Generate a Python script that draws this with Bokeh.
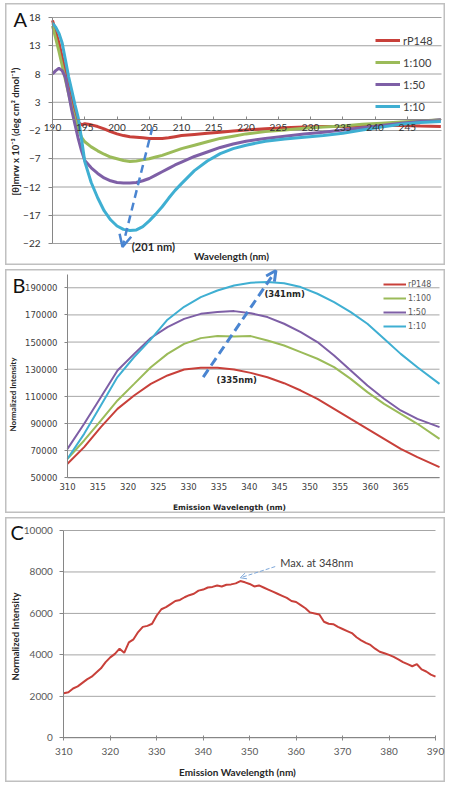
from math import pi
from bokeh.plotting import figure
from bokeh.layouts import column
from bokeh.models import (Range1d, FixedTicker, Label, Arrow, OpenHead, Legend,
                          LegendItem, BasicTickFormatter)
from bokeh.embed import file_html
from bokeh.resources import INLINE

# ---------------- Panel A : CD spectra ----------------
cd_wavelength = [190, 190.5, 191, 191.5, 192, 192.5, 193, 193.5, 194, 194.5,
                 195, 196, 197, 198, 199, 200, 201, 202, 203, 204, 205, 206, 207, 208, 209, 210,
                 212, 214, 216, 218, 220,
                 223, 226, 229, 232, 235, 238, 241, 244, 247,
                 250.2]
cd_rp148 = [17.5, 15.5, 13.5, 11.0, 8.5, 6.0, 3.5, 1.3, -0.6, -1.0,
            -0.8, -1.0, -1.3, -1.7, -2.2, -2.6, -2.9, -3.1, -3.2, -3.3, -3.4, -3.4, -3.4, -3.3, -3.1, -2.9,
            -2.7, -2.5, -2.3, -2.1, -1.9,
            -1.7, -1.5, -1.4, -1.3, -1.3, -1.2, -1.1, -1.1, -1.2,
            -1.3]
cd_1_100 = [16.5, 14.3, 12.0, 9.5, 7.0, 4.5, 2.0, 0.0, -1.8, -3.2,
            -4.0, -4.9, -5.6, -6.2, -6.7, -7.0, -7.3, -7.5, -7.4, -7.2, -7.0, -6.7, -6.4, -6.0, -5.6, -5.2,
            -4.6, -4.0, -3.4, -3.0, -2.6,
            -2.2, -1.9, -1.6, -1.4, -1.2, -0.9, -0.7, -0.5, -0.3,
            -0.1]
cd_1_50 = [8.0, 8.6, 9.0, 8.6, 7.4, 4.5, 1.5, -1.0, -3.5, -5.6,
           -7.3, -8.6, -9.6, -10.4, -10.9, -11.2, -11.3, -11.3, -11.2, -10.9, -10.5, -9.9, -9.3, -8.7, -8.1, -7.6,
           -6.6, -5.8, -5.0, -4.4, -3.9,
           -3.4, -3.0, -2.6, -2.3, -1.9, -1.5, -1.1, -0.7, -0.4,
           -0.1]
cd_1_10 = [17.0, 16.3, 15.2, 13.5, 10.5, 7.5, 5.0, 2.5, 0.2, -3.5,
           -7.5, -11.2, -13.9, -16.2, -17.8, -18.9, -19.5, -19.7, -19.6, -19.0, -18.0, -16.8, -15.5, -14.0, -12.6, -11.4,
           -9.1, -7.4, -6.1, -5.2, -4.6,
           -3.9, -3.5, -3.2, -2.9, -2.5, -1.9, -1.4, -0.9, -0.6,
           -0.4]
cd_x_ticks = [190, 195, 200, 205, 210, 215, 220, 225, 230, 235, 240, 245]
cd_y_ticks = [18, 13, 8, 3, -2, -7, -12, -17, -22]

# ---------------- Panel B : fluorescence emission ----------------
fl_wavelength = [310, 312.75, 315.5, 318.25, 321, 323.75, 326.5, 329.25, 332, 334.75, 337.5,
                 340.25, 343, 345.75, 348.5, 351.25, 354, 356.75, 359.5, 362.25, 365, 367.75, 371.4]
fl_rp148 = [60300, 72600, 87300, 100800, 110600, 119200, 125400, 129800, 131000, 131000, 129800,
            127300, 124100, 119700, 114300, 108200, 100800, 93400, 86100, 78700, 71300, 65200, 57800]
fl_1_100 = [64000, 77500, 92200, 107000, 119200, 131500, 141300, 148700, 152900, 154400, 154100,
            154400, 151200, 147500, 142600, 137700, 131500, 122900, 113100, 104500, 97100, 89800, 78700]
fl_1_50 = [71300, 89800, 109400, 129000, 141300, 153000, 161000, 167100, 170800, 172100, 172800,
           171300, 168400, 163500, 157300, 150000, 140100, 129000, 118000, 108200, 99600, 93400, 87300]
fl_1_10 = [64000, 82400, 103300, 124200, 139000, 152000, 166500, 176000, 183100, 188000, 191700,
           193700, 194200, 193400, 190500, 185600, 179400, 172100, 163500, 152400, 141300, 131500, 119200]
fl_x_ticks = [310, 315, 320, 325, 330, 335, 340, 345, 350, 355, 360, 365]
fl_y_ticks = [50000, 70000, 90000, 110000, 130000, 150000, 170000, 190000]

# ---------------- Panel C : single emission spectrum ----------------
em_wavelength = list(range(310, 391))
em_intensity = [2150, 2200, 2380, 2480, 2650, 2820, 2950, 3150, 3350, 3650,
                3880, 4050, 4300, 4100, 4600, 4750, 5100, 5350, 5400, 5500,
                5900, 6200, 6300, 6450, 6600, 6650, 6780, 6880, 6950, 7100,
                7150, 7250, 7280, 7350, 7300, 7380, 7400, 7450, 7560, 7500,
                7420, 7300, 7350, 7250, 7150, 7050, 6950, 6850, 6750, 6600,
                6550, 6400, 6250, 6050, 6000, 5950, 5600, 5500, 5480, 5350,
                5250, 5150, 5050, 4850, 4700, 4580, 4480, 4300, 4150, 4080,
                4000, 3900, 3780, 3650, 3550, 3450, 3550, 3300, 3200, 3050,
                2950]
em_x_ticks = [310, 320, 330, 340, 350, 360, 370, 380, 390]
em_y_ticks = [0, 2000, 4000, 6000, 8000, 10000]

series_names = ["rP148", "1:100", "1:50", "1:10"]
RED, GREEN, PURPLE, CYAN = "#C8403A", "#9BBB59", "#7E5FA6", "#3FAFD2"
ARROW_BLUE = "#4A85D1"
AXIS_GREY = "#868686"
W = 440


def span_range(lo, hi, px_lo, px_hi, total):
    """Range whose [lo, hi] occupies pixels [px_lo, px_hi] of a frame 'total' px long."""
    scale = (px_hi - px_lo) / (hi - lo)
    return Range1d(lo - px_lo / scale, hi + (total - px_hi) / scale)


def make_panel(H, xlim, ylim, box, xcross, ycross, xticks, yticks, grid_color, font, size, color):
    left, right, top, bottom = box
    p = figure(width=W, height=H,
               x_range=span_range(xlim[0], xlim[1], left, right, W),
               y_range=span_range(ylim[0], ylim[1], H - bottom, H - top, H),
               output_backend="svg", toolbar_location=None, min_border=0)
    p.outline_line_color = "#c0c0c0"
    p.outline_line_width = 2
    p.xgrid.visible = False
    p.ygrid.visible = False
    # horizontal gridlines spanning the plot area only
    p.segment(x0=[xlim[0]] * len(yticks), x1=[xlim[1]] * len(yticks), y0=yticks, y1=yticks,
              line_color=grid_color, line_width=1)
    p.xaxis.fixed_location = xcross
    p.xaxis.bounds = xlim
    p.xaxis.ticker = FixedTicker(ticks=xticks)
    p.yaxis.fixed_location = ycross
    p.yaxis.bounds = ylim
    p.yaxis.ticker = FixedTicker(ticks=yticks)
    for ax in p.axis:
        ax.major_label_text_font = font
        ax.major_label_text_font_size = size
        ax.major_label_text_color = color
        ax.axis_line_color = AXIS_GREY
        ax.major_tick_line_color = AXIS_GREY
        ax.minor_tick_line_color = None
    return p


def make_legend(renderers, loc, font, size, color, gh, spacing, gw, standoff):
    return Legend(items=[LegendItem(label=n, renderers=[r]) for n, r in zip(series_names, renderers)],
                  location=loc, padding=0, margin=0, spacing=spacing,
                  glyph_height=gh, label_height=gh, glyph_width=gw, label_standoff=standoff,
                  border_line_color=None, background_fill_alpha=0,
                  label_text_font=font, label_text_font_size=size, label_text_color=color)


def screen_label(p, x, y, text, **kw):
    p.add_layout(Label(x=x, y=y, x_units="screen", y_units="screen", text=text, **kw))


# ======================= A =======================
HA = 262
pA = make_panel(HA, (190, 250.3), (-22, 18), (47, 436, 14, 240), 0, 190,
                cd_x_ticks, cd_y_ticks, "#a0a0a0", "Lato", "10px", "#333333")
pA.xaxis.major_tick_in = 3
pA.xaxis.major_tick_out = 0
pA.xaxis.major_label_standoff = 5
pA.yaxis.major_tick_in = 0
pA.yaxis.major_tick_out = 4
pA.yaxis.major_label_standoff = 8

rendA = []
for ys, c in zip([cd_rp148, cd_1_100, cd_1_50, cd_1_10], [RED, GREEN, PURPLE, CYAN]):
    rendA.append(pA.line(cd_wavelength, ys, line_color=c, line_width=3))
pA.add_layout(make_legend(rendA, (370, 152), "Lato", "11px", "#404040", 14, 8, 25, 3))

pA.add_layout(Arrow(x_start=205.5, y_start=-1.4, x_end=200.85, y_end=-22.6,
                    line_color=ARROW_BLUE, line_width=2.5, line_dash="8 5",
                    end=OpenHead(size=12, line_color=ARROW_BLUE, line_width=2.5)))
pA.add_layout(Label(x=202.3, y=-22.6, text="(201 nm)", text_font="Lato", text_font_style="bold",
                    text_font_size="11px", text_color="#262626", text_baseline="middle"))
screen_label(pA, 226, 10, "Wavelength (nm)", text_align="center", text_baseline="middle",
             text_font="Lato", text_font_style="bold", text_font_size="10px", text_color="#262626")
screen_label(pA, 10, 134, "[θ]mrw x 10⁻³ (deg cm² dmol⁻¹)", angle=pi / 2, text_align="center",
             text_baseline="middle", text_font="Lato", text_font_style="bold",
             text_font_size="9.5px", text_color="#262626")
screen_label(pA, 8, 235, "A", text_font="Lato", text_font_size="20px", text_color="#111111")

# ======================= B =======================
HB = 244
pB = make_panel(HB, (310, 371.4), (50000, 200000), (62, 434, 4.7, 208.3), 50000, 310,
                fl_x_ticks, fl_y_ticks, "#a6a6a6", "DejaVu Sans", "8.5px", "#404040")
pB.yaxis.formatter = BasicTickFormatter(use_scientific=False)
pB.xaxis.major_tick_in = 0
pB.xaxis.major_tick_out = 0
pB.xaxis.major_label_standoff = 5
pB.yaxis.major_tick_in = 0
pB.yaxis.major_tick_out = 3
pB.yaxis.major_label_standoff = 7

rendB = []
for ys, c in zip([fl_rp148, fl_1_100, fl_1_50, fl_1_10], [RED, GREEN, PURPLE, CYAN]):
    rendB.append(pB.line(fl_wavelength, ys, line_color=c, line_width=2))
pB.add_layout(make_legend(rendB, (378, 182), "DejaVu Sans", "8px", "#595959", 10, 4, 23, 2))

pB.add_layout(Arrow(x_start=332.4, y_start=124200, x_end=344.4, y_end=202700,
                    line_color=ARROW_BLUE, line_width=3, line_dash="9 5",
                    end=OpenHead(size=10, line_color=ARROW_BLUE, line_width=3)))
pB.add_layout(Label(x=342.5, y=185100, text="(341nm)", text_font="DejaVu Sans", text_font_style="bold",
                    text_font_size="8.5px", text_color="#262626", text_baseline="middle"))
pB.add_layout(Label(x=334.6, y=121700, text="(335nm)", text_font="DejaVu Sans", text_font_style="bold",
                    text_font_size="8.5px", text_color="#262626", text_baseline="middle"))
screen_label(pB, 224, 6, "Emission Wavelength (nm)", text_align="center", text_baseline="middle",
             text_font="DejaVu Sans", text_font_style="bold", text_font_size="7.5px",
             text_color="#262626")
screen_label(pB, 7.5, 119, "Normalized Intensity", angle=pi / 2, text_align="center",
             text_baseline="middle", text_font="Lato", text_font_style="bold",
             text_font_size="8px", text_color="#262626")
screen_label(pB, 7, 217, "B", text_font="Lato", text_font_size="20px", text_color="#111111")

# ======================= C =======================
HC = 265
pC = make_panel(HC, (310, 390), (0, 10000), (58.3, 430, 13, 220.3), 0, 310,
                em_x_ticks, em_y_ticks, "#a6a6a6", "Lato", "10px", "#595959")
pC.xaxis.major_tick_in = 2
pC.xaxis.major_tick_out = 3
pC.xaxis.major_label_standoff = 7
pC.yaxis.major_tick_in = 0
pC.yaxis.major_tick_out = 4
pC.yaxis.major_label_standoff = 7

pC.line(em_wavelength, em_intensity, line_color=RED, line_width=2)
pC.add_layout(Arrow(x_start=355.5, y_start=8260, x_end=348.0, y_end=7720,
                    line_color="#7DA7D9", line_width=1, line_dash="4 2",
                    end=OpenHead(size=6, line_color="#7DA7D9", line_width=1)))
pC.add_layout(Label(x=356.6, y=8470, text="Max. at 348nm", text_font="Lato",
                    text_font_size="11px", text_color="#404040", text_baseline="middle"))
screen_label(pC, 232, 11, "Emission Wavelength (nm)", text_align="center", text_baseline="middle",
             text_font="Lato", text_font_style="bold", text_font_size="10px", text_color="#262626")
screen_label(pC, 10, 146, "Normalized Intensity", angle=pi / 2, text_align="center",
             text_baseline="middle", text_font="Lato", text_font_style="bold",
             text_font_size="9.5px", text_color="#262626")
screen_label(pC, 5, 239, "C", text_font="Lato", text_font_size="20px", text_color="#111111")

layout = column(pA, pB, pC, spacing=4, margin=(3, 0, 0, 5))
open("out.html", "w").write(file_html(layout, INLINE))
